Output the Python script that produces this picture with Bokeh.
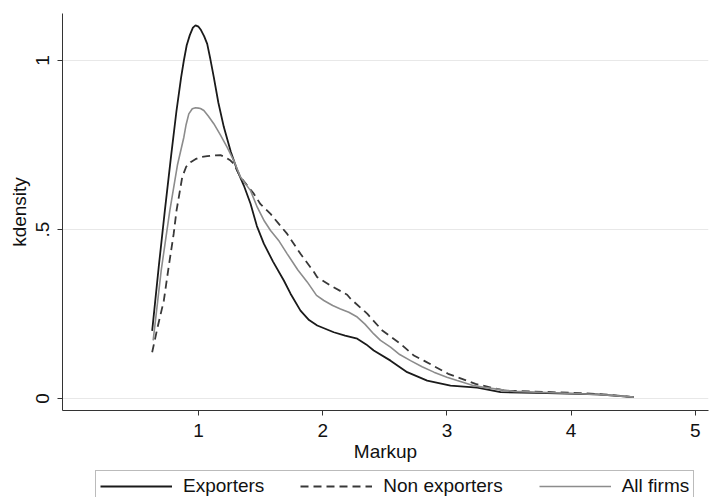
from bokeh.plotting import figure
from bokeh.layouts import column
from bokeh.models import Range1d, FixedTicker, Legend, LegendItem
from bokeh.embed import file_html
from bokeh.resources import INLINE

# Exporters
exp_x = [0.627, 0.68, 0.729, 0.78, 0.823, 0.86, 0.882, 0.905, 0.93, 0.955, 0.976, 1.0, 1.02, 1.045,
         1.07, 1.095, 1.123, 1.16, 1.204, 1.26, 1.312, 1.365, 1.419, 1.47, 1.526, 1.60, 1.687,
         1.741, 1.821, 1.89, 1.956, 2.089, 2.18, 2.278, 2.35, 2.411, 2.546, 2.68, 2.841, 3.029,
         3.244, 3.432, 3.808, 4.21, 4.505]
exp_y = [0.20, 0.39, 0.556, 0.72, 0.852, 0.95, 1.00, 1.045, 1.075, 1.097, 1.104, 1.100, 1.09, 1.072,
         1.049, 1.005, 0.951, 0.875, 0.803, 0.73, 0.675, 0.63, 0.576, 0.51, 0.458, 0.405, 0.349,
         0.31, 0.26, 0.232, 0.216, 0.196, 0.186, 0.177, 0.16, 0.142, 0.112, 0.078, 0.053, 0.038,
         0.032, 0.019, 0.016, 0.012, 0.004]

# Non exporters
non_x = [0.627, 0.67, 0.721, 0.76, 0.80, 0.823, 0.869, 0.90, 0.936, 0.975, 1.016, 1.07, 1.12, 1.177,
         1.22, 1.258, 1.284, 1.338, 1.445, 1.499, 1.58, 1.65, 1.714, 1.821, 1.928, 1.956, 2.063,
         2.197, 2.224, 2.358, 2.48, 2.626, 2.734, 2.814, 3.01, 3.23, 3.432, 3.50, 4.07, 4.30, 4.505]
non_y = [0.137, 0.21, 0.29, 0.39, 0.487, 0.556, 0.655, 0.685, 0.699, 0.708, 0.714, 0.717, 0.719, 0.72,
         0.713, 0.704, 0.694, 0.655, 0.606, 0.575, 0.546, 0.515, 0.487, 0.428, 0.375, 0.359, 0.334,
         0.307, 0.295, 0.251, 0.201, 0.162, 0.127, 0.112, 0.073, 0.043, 0.026, 0.023, 0.016, 0.011, 0.004]

# All firms
all_x = [0.635, 0.70, 0.769, 0.83, 0.882, 0.90, 0.922, 0.95, 0.976, 1.0, 1.016, 1.043, 1.08, 1.123,
         1.176, 1.231, 1.284, 1.338, 1.419, 1.473, 1.53, 1.58, 1.65, 1.714, 1.80, 1.875, 1.95,
         2.009, 2.08, 2.143, 2.21, 2.278, 2.34, 2.411, 2.465, 2.546, 2.62, 2.707, 2.80, 2.895, 3.0,
         3.083, 3.217, 3.297, 3.54, 4.07, 4.30, 4.505]
all_y = [0.172, 0.38, 0.556, 0.69, 0.773, 0.81, 0.842, 0.857, 0.860, 0.859, 0.858, 0.852, 0.835, 0.813,
         0.78, 0.743, 0.704, 0.655, 0.615, 0.566, 0.525, 0.497, 0.465, 0.428, 0.38, 0.345, 0.305,
         0.290, 0.275, 0.265, 0.255, 0.241, 0.22, 0.191, 0.172, 0.152, 0.13, 0.112, 0.094, 0.078, 0.063,
         0.053, 0.038, 0.033, 0.021, 0.014, 0.010, 0.004]

x_ticks = [1, 2, 3, 4, 5]
y_ticks = [0, 0.5, 1]
y_tick_labels = {0: "0", 0.5: ".5", 1: "1"}
series_labels = ["Exporters", "Non exporters", "All firms"]

FONT = "Liberation Sans"
FS = "19px"

STYLES = [dict(line_color="#1a1a1a", line_width=1.8),
          dict(line_color="#383838", line_width=1.8, line_dash="8 5"),
          dict(line_color="#8c8c8c", line_width=1.6)]

p = figure(width=716, height=468, output_backend="svg", toolbar_location=None,
           x_range=Range1d(-0.095, 5.106), y_range=Range1d(-0.0355, 1.139),
           min_border_left=62, min_border_right=8, min_border_top=13, min_border_bottom=58)
p.outline_line_color = None
p.background_fill_color = "white"

p.line(exp_x, exp_y, **STYLES[0])
p.line(non_x, non_y, **STYLES[1])
p.line(all_x, all_y, **STYLES[2])

p.xaxis.ticker = FixedTicker(ticks=x_ticks)
p.yaxis.ticker = FixedTicker(ticks=y_ticks)
p.ygrid.ticker = FixedTicker(ticks=y_ticks)
p.yaxis.major_label_overrides = y_tick_labels
p.yaxis.major_label_orientation = "vertical"
p.xaxis.axis_label = "Markup"
p.yaxis.axis_label = "kdensity"

for ax in (p.xaxis, p.yaxis):
    ax.axis_line_color = "#333333"
    ax.axis_line_width = 1
    ax.major_tick_line_color = "#333333"
    ax.major_tick_in = 0
    ax.major_tick_out = 5
    ax.minor_tick_line_color = None
    ax.major_label_text_font = FONT
    ax.major_label_text_font_size = FS
    ax.major_label_text_color = "#111111"
    ax.axis_label_text_font = FONT
    ax.axis_label_text_font_size = FS
    ax.axis_label_text_font_style = "normal"
    ax.axis_label_text_color = "#111111"

p.xaxis.major_label_standoff = 8
p.xaxis.axis_label_standoff = 1
p.yaxis.major_label_standoff = 8
p.yaxis.axis_label_standoff = 4

p.xgrid.grid_line_color = None
p.ygrid.grid_line_color = "#e8e8e8"
p.ygrid.grid_line_width = 1

# Legend strip below the plot; the key lines hold a single point each, so they draw nothing
lg = figure(width=716, height=29, output_backend="svg", toolbar_location=None,
            x_axis_type=None, y_axis_type=None, min_border=0,
            x_range=Range1d(0, 1), y_range=Range1d(0, 1))
lg.outline_line_color = None
keys = [lg.line(x=xs[:1], y=ys[:1], **st)
        for xs, ys, st in zip([exp_x, non_x, all_x], [exp_y, non_y, all_y], STYLES)]

legend = Legend(items=[LegendItem(label=series_labels[i], renderers=[keys[i]]) for i in range(3)],
                orientation="horizontal", location=(33, -5))
legend.glyph_width = 72
legend.glyph_height = 16
legend.label_height = 16
legend.label_standoff = 11
legend.spacing = 36
legend.padding = 4
legend.margin = 0
legend.label_text_font = FONT
legend.label_text_font_size = FS
legend.label_text_color = "#111111"
legend.border_line_color = "#777777"
legend.border_line_width = 1.5
legend.background_fill_color = "white"
lg.add_layout(legend, "center")

layout = column(p, lg, spacing=0)
open("out.html", "w").write(file_html(layout, INLINE))
